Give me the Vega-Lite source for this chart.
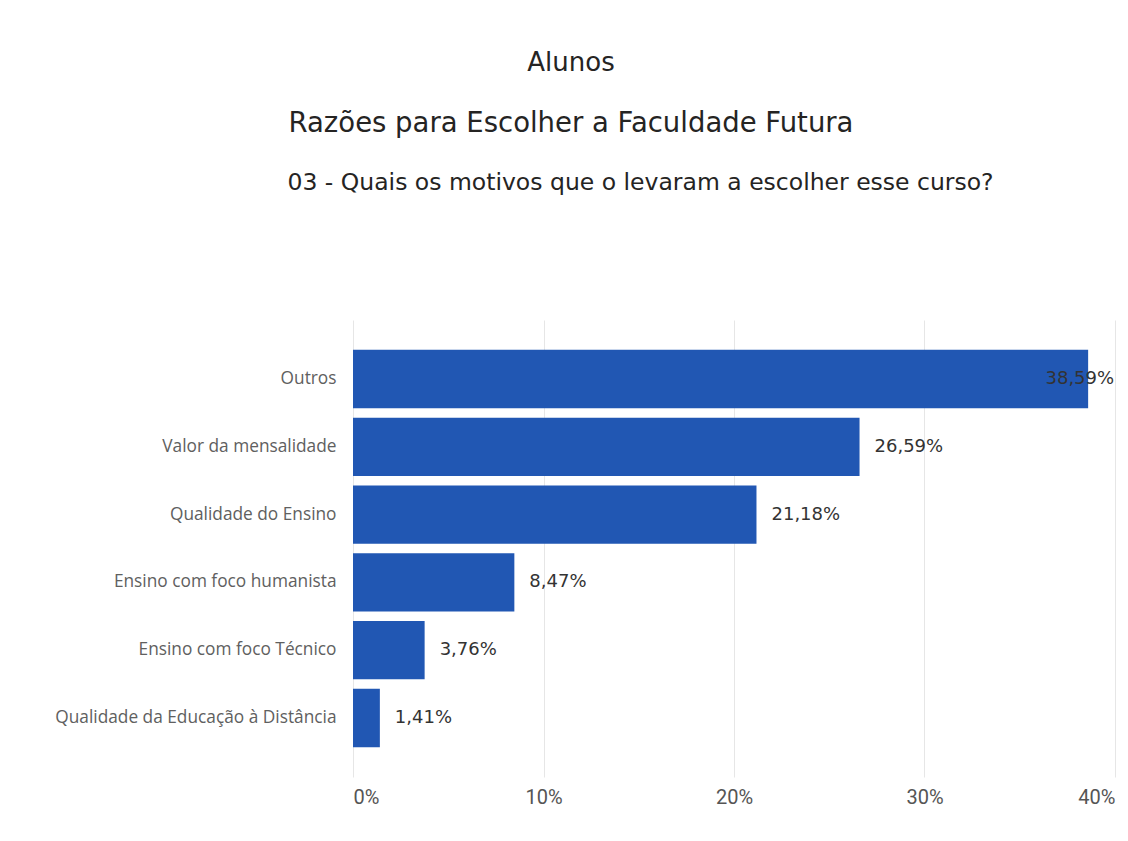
{
  "$schema": "https://vega.github.io/schema/vega-lite/v6.json",
  "autosize": "none",
  "width": 762,
  "height": 457,
  "padding": {"left": 353, "top": 320, "right": 13, "bottom": 64},
  "background": "white",
  "config": {
    "view": {"stroke": null},
    "locale": {"number": {"decimal": ",", "thousands": ".", "grouping": [3], "currency": ["R$", ""]}}
  },
  "title": {
    "text": "Alunos",
    "subtitle": "Razões para Escolher a Faculdade Futura",
    "anchor": "middle",
    "frame": "group",
    "dx": -163,
    "font": "DejaVu Sans",
    "fontSize": 26,
    "fontWeight": "normal",
    "color": "#252423",
    "subtitleFont": "DejaVu Sans",
    "subtitleFontSize": 27.5,
    "subtitleColor": "#252423",
    "subtitlePadding": 34,
    "offset": 33
  },
  "data": {
    "values": [
      {"motivo": "Outros", "pct": 0.3859},
      {"motivo": "Valor da mensalidade", "pct": 0.2659},
      {"motivo": "Qualidade do Ensino", "pct": 0.2118},
      {"motivo": "Ensino com foco humanista", "pct": 0.0847},
      {"motivo": "Ensino com foco Técnico", "pct": 0.0376},
      {"motivo": "Qualidade da Educação à Distância", "pct": 0.0141}
    ]
  },
  "encoding": {
    "y": {
      "field": "motivo",
      "type": "nominal",
      "sort": null,
      "scale": {"paddingInner": 0.14, "paddingOuter": 0.44},
      "axis": {
        "title": "03 - Quais os motivos que o levaram a escolher esse curso?",
        "titleAngle": 0,
        "titleAlign": "left",
        "titleBaseline": "alphabetic",
        "titleX": -66,
        "titleY": -131,
        "titleFont": "DejaVu Sans",
        "titleFontSize": 23.5,
        "titleFontWeight": "normal",
        "titleColor": "#252423",
        "domain": false,
        "ticks": false,
        "labelFont": "Open Sans",
        "labelFontSize": 17.3,
        "labelColor": "#606060",
        "labelPadding": 17,
        "labelLimit": 400
      }
    },
    "x": {
      "field": "pct",
      "type": "quantitative",
      "scale": {"domain": [0, 0.4], "nice": false},
      "axis": {
        "title": null,
        "format": ".0%",
        "values": [0, 0.1, 0.2, 0.3, 0.4],
        "domain": false,
        "ticks": false,
        "grid": true,
        "gridColor": "#e6e6e6",
        "labelFont": "Roboto",
        "labelFontSize": 20,
        "labelColor": "#555555",
        "labelPadding": 10
      }
    }
  },
  "layer": [
    {"mark": {"type": "bar", "color": "#2157B3"}},
    {
      "transform": [{"filter": "datum.pct < 0.35"}],
      "mark": {"type": "text", "align": "left", "baseline": "middle", "dx": 15, "font": "DejaVu Sans", "fontSize": 18, "color": "#333333"},
      "encoding": {"text": {"field": "pct", "type": "quantitative", "format": ".2%"}}
    },
    {
      "transform": [{"filter": "datum.pct >= 0.35"}],
      "mark": {"type": "text", "align": "right", "baseline": "middle", "dx": 26, "font": "DejaVu Sans", "fontSize": 18, "color": "#333333"},
      "encoding": {"text": {"field": "pct", "type": "quantitative", "format": ".2%"}}
    }
  ]
}
